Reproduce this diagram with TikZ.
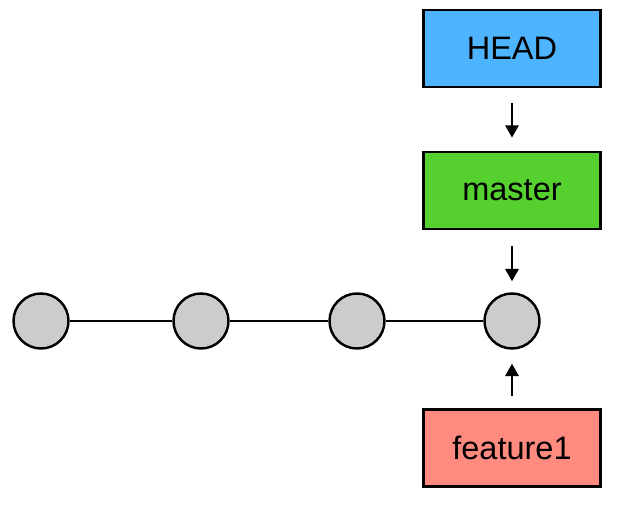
\documentclass[tikz,border=0pt]{standalone}
\usepackage{fontspec}
\setmainfont{Liberation Sans}
\usetikzlibrary{arrows.meta}

\definecolor{headblue}{HTML}{4FB4FF}
\definecolor{mastergreen}{HTML}{55D02E}
\definecolor{featurered}{HTML}{FF8A80}
\definecolor{commitgray}{HTML}{CCCCCC}

\begin{document}
\begin{tikzpicture}[x=0.02cm, y=-0.02cm]
\useasboundingbox (0, 0) rectangle (643, 517);
\begin{scope}[every node/.style={circle,draw,line width=1.4pt,fill=commitgray,minimum size=1.1cm,inner sep=0pt}]
    \node (c1) at (41, 321) {};
    \node (c2) at (201, 321) {};
    \node (c3) at (357, 321) {};
    \node (c4) at (512, 321) {};
\end{scope}

\begin{scope}[every node/.style={rectangle,draw,line width=1.6pt,minimum width=3.54cm,minimum height=1.54cm,font=\fontsize{18.5}{20}\selectfont}]
    \node (head) at (512, 48.5) [fill=headblue] {HEAD};
    \node (master) at (512, 190.5) [fill=mastergreen] {master};
    \node (feature) at (512, 448) [fill=featurered] {feature1};
\end{scope}

\begin{scope}[>={Triangle[length=7pt,width=7.5pt]}, line width=1.4pt]
    \draw (c1) -- (c2);
    \draw (c2) -- (c3);
    \draw (c3) -- (c4);
    \draw [->, shorten <=0.3cm, shorten >=0.26cm] (head) -- (master);
    \draw [->, shorten <=0.32cm, shorten >=0.22cm] (master) -- (c4);
    \draw [->, shorten <=0.24cm, shorten >=0.28cm] (feature) -- (c4);
\end{scope}
\end{tikzpicture}
\end{document}
